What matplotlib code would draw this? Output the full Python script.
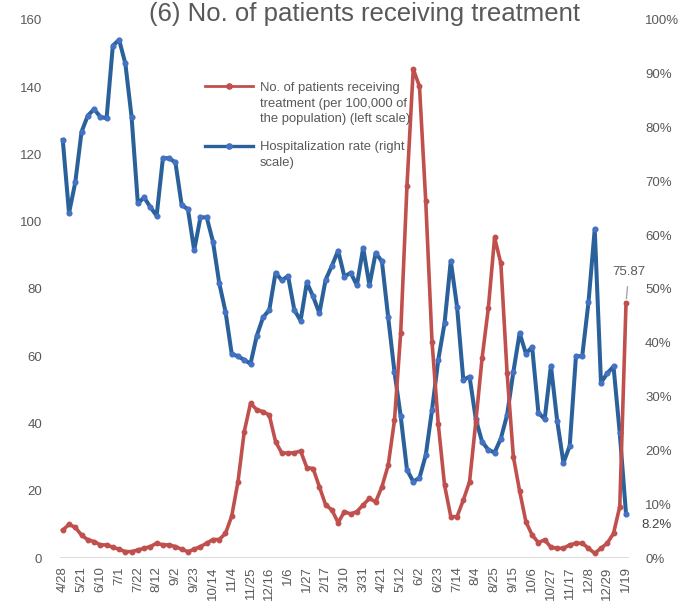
import matplotlib
matplotlib.use("Agg")
import matplotlib.pyplot as plt
from matplotlib.lines import Line2D

# weekly data, 4/28 through 1/19
tick_labels = ["4/28", "5/21", "6/10", "7/1", "7/22", "8/12", "9/2", "9/23", "10/14",
               "11/4", "11/25", "12/16", "1/6", "1/27", "2/17", "3/10", "3/31", "4/21",
               "5/12", "6/2", "6/23", "7/14", "8/4", "8/25", "9/15", "10/6", "10/27",
               "11/17", "12/8", "12/29", "1/19"]

patients = [8.3, 10.0, 9.1, 6.8, 5.4, 4.9, 3.9, 3.9, 3.2, 2.6,
            1.9, 1.9, 2.4, 2.9, 3.4, 4.4, 3.9, 3.9, 3.4, 2.6,
            1.9, 2.6, 3.4, 4.4, 5.5, 5.5, 7.3, 12.5, 22.7, 37.6,
            46.0, 44.1, 43.5, 42.5, 34.6, 31.2, 31.2, 31.3, 31.8, 26.9,
            26.6, 21.2, 15.8, 14.3, 10.5, 13.8, 13.1, 13.8, 15.8, 17.7,
            16.7, 21.2, 27.6, 40.9, 67.0, 110.7, 145.4, 140.2, 106.0, 64.3,
            39.8, 21.7, 12.3, 12.3, 17.2, 22.7, 40.5, 59.4, 74.3, 95.3,
            87.6, 54.9, 30.1, 19.9, 10.8, 6.8, 4.6, 5.4, 3.2, 2.9,
            2.9, 3.9, 4.4, 4.4, 2.9, 1.4, 2.9, 4.4, 7.3, 15.3,
            75.87]

hosp_rate = [77.7, 64.1, 69.8, 79.2, 82.2, 83.4, 82.0, 81.7, 95.2, 96.3,
             91.9, 81.9, 65.9, 67.0, 65.2, 63.6, 74.3, 74.3, 73.5, 65.6,
             64.8, 57.2, 63.3, 63.3, 58.8, 51.1, 45.8, 37.9, 37.5, 36.8,
             36.1, 41.3, 44.7, 46.1, 53.0, 51.6, 52.4, 46.1, 44.1, 51.2,
             48.6, 45.5, 51.7, 54.3, 57.1, 52.3, 53.0, 50.7, 57.6, 50.7,
             56.7, 55.1, 44.7, 34.6, 26.3, 16.4, 14.2, 14.9, 19.1, 27.5,
             36.8, 43.6, 55.2, 46.7, 33.1, 33.7, 25.8, 21.6, 20.1, 19.6,
             22.2, 26.6, 34.6, 41.8, 38.0, 39.2, 27.0, 25.8, 35.7, 25.5,
             17.7, 20.8, 37.5, 37.5, 47.5, 61.1, 32.6, 34.3, 35.6, 23.2,
             8.2]

RED = "#C0504D"
BLUE = "#2A619B"
BLUE_DOT = "#4472C4"
GRAY = "#595959"
FONT = ["Liberation Sans", "DejaVu Sans"]

x = list(range(len(patients)))

fig = plt.figure(figsize=(6.87, 6.06), dpi=100)
ax = fig.add_axes([0.0868, 0.0792, 0.829, 0.888])
ax2 = ax.twinx()

ax.plot(x, patients, color=RED, lw=2.6, marker="o", ms=3.2,
        mfc=RED, mec=RED, zorder=3)
ax2.plot(x, hosp_rate, color=BLUE, lw=2.9, marker="o", ms=3.4,
         mfc=BLUE_DOT, mec=BLUE_DOT, zorder=2)
ax.set_zorder(ax2.get_zorder() + 1)
ax.patch.set_visible(False)

ax.set_xlim(-0.5, len(x) - 0.5)
ax.set_ylim(0, 160)
ax2.set_ylim(0, 100)

ax.set_yticks(range(0, 161, 20))
ax2.set_yticks(range(0, 101, 10))
ax2.set_yticklabels([f"{v}%" for v in range(0, 101, 10)])
ax.set_xticks(range(0, len(x), 3))
ax.set_xticklabels(tick_labels, rotation=90)

for a in (ax, ax2):
    for s in a.spines.values():
        s.set_visible(False)
    a.tick_params(length=0, colors=GRAY, labelsize=9.5)
ax.tick_params(axis="y", pad=12.5)
ax2.tick_params(axis="y", pad=11.5)
ax.tick_params(axis="x", pad=6)
for lab in ax.get_xticklabels() + ax.get_yticklabels() + ax2.get_yticklabels():
    lab.set_family(FONT)

ax.axhline(0, color="#D9D9D9", lw=1.3, zorder=1)

# value labels at the last week
ax.annotate("75.87", xy=(x[-1], patients[-1]), xytext=(2, 22),
            textcoords="offset points", ha="center", va="center",
            fontsize=9.5, color=GRAY, family=FONT,
            arrowprops=dict(arrowstyle="-", color="#A6A6A6", lw=1,
                            shrinkA=4, shrinkB=3))
ax2.annotate("8.2%", xy=(x[-1], hosp_rate[-1]), xytext=(22, -8),
             textcoords="offset points", ha="center", va="center",
             fontsize=9.5, color="#404040", family=FONT)

# legend drawn by hand so the marker sits on the first text line
W, H = 687.0, 606.0
legend_rows = [
    (RED, RED, 2.0, 86, 82,
     "No. of patients receiving\ntreatment (per 100,000 of\nthe population) (left scale)"),
    (BLUE, BLUE_DOT, 2.4, 146, 141, "Hospitalization rate (right\nscale)"),
]
for col, dot, lw, y_line, y_text, text in legend_rows:
    fig.add_artist(Line2D([205 / W, 253 / W], [1 - y_line / H, 1 - y_line / H],
                          color=col, lw=lw, transform=fig.transFigure))
    fig.add_artist(Line2D([229 / W], [1 - y_line / H], color=dot, marker="o", ms=3.8,
                          transform=fig.transFigure))
    fig.text(260 / W, 1 - y_text / H, text, ha="left", va="top", fontsize=9.4,
             color=GRAY, family=FONT, linespacing=1.4)

fig.text(0.531, 1 - 21 / H, "(6) No. of patients receiving treatment",
         ha="center", va="baseline", fontsize=18.5, color=GRAY, family=FONT)

fig.savefig("out.png", dpi=100)
